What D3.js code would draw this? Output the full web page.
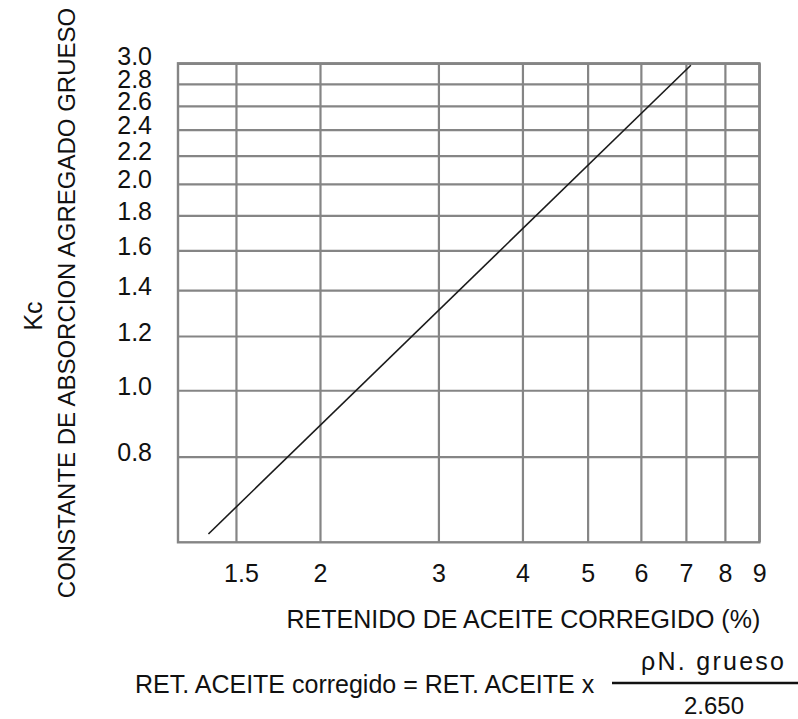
<!DOCTYPE html>
<html>
<head>
<meta charset="utf-8">
<script src="https://cdn.jsdelivr.net/npm/d3@7"></script>
<style>
  html, body { margin: 0; padding: 0; background: #fff; }
  svg { display: block; font-family: "Liberation Sans", Arial, sans-serif; }
</style>
</head>
<body>
<svg id="chart" width="798" height="719"></svg>
<script>
// ---- data ----
const xDomain = [1.23, 9];
const yDomain = [0.6, 3.0];
const xTickValues = [1.5, 2, 3, 4, 5, 6, 7, 8, 9];
const xTickLabels = ["1.5", "2", "3", "4", "5", "6", "7", "8", "9"];
const yTickValues = [0.8, 1.0, 1.2, 1.4, 1.6, 1.8, 2.0, 2.2, 2.4, 2.6, 2.8, 3.0];
const yTickLabels = ["0.8", "1.0", "1.2", "1.4", "1.6", "1.8", "2.0", "2.2", "2.4", "2.6", "2.8", "3.0"];
const curveX = [1.365, 7.12];
const curveY = [0.617, 2.98];

// ---- layout ----
const svg = d3.select("#chart");
const margin = { left: 178, top: 63.3, right: 798 - 759.3, bottom: 719 - 542.3 };
const W = 798 - margin.left - margin.right;
const H = 719 - margin.top - margin.bottom;
const gridColor = "#858585";
const textColor = "#111";
const fs = "25px";

const x = d3.scaleLog().domain(xDomain).range([0, W]);
const y = d3.scaleLog().domain(yDomain).range([H, 0]);

const g = svg.append("g").attr("transform", `translate(${margin.left},${margin.top})`);

// y grid + labels
const yAxis = d3.axisLeft(y)
  .tickValues(yTickValues)
  .tickFormat((d, i) => yTickLabels[i])
  .tickSize(-W)
  .tickPadding(26);
const gy = g.append("g").call(yAxis);
gy.select(".domain").remove();
gy.selectAll(".tick line").attr("stroke", gridColor).attr("stroke-width", 2.2);
gy.selectAll(".tick text")
  .attr("dy", null)
  .attr("y", d => d === yDomain[1] ? 1 : 4)
  .attr("fill", textColor)
  .style("font-size", fs);

// x grid + labels
const xAxis = d3.axisBottom(x)
  .tickValues(xTickValues)
  .tickFormat((d, i) => xTickLabels[i])
  .tickSize(-H);
const gx = g.append("g").attr("transform", `translate(0,${H})`).call(xAxis);
gx.select(".domain").remove();
gx.selectAll(".tick line").attr("stroke", gridColor).attr("stroke-width", 2.2);
gx.selectAll(".tick text")
  .attr("dy", null)
  .attr("y", 39.7)
  .attr("x", d => d === xTickValues[0] ? 5 : 0)
  .attr("fill", textColor)
  .style("font-size", fs);

// border
g.append("rect")
  .attr("x", 0).attr("y", 0)
  .attr("width", W).attr("height", H)
  .attr("fill", "none")
  .attr("stroke", gridColor)
  .attr("stroke-width", 2.4);

// curve
const pts = curveX.map((v, i) => [v, curveY[i]]);
g.append("path")
  .datum(pts)
  .attr("fill", "none")
  .attr("stroke", "#1a1a1a")
  .attr("stroke-width", 1.6)
  .attr("d", d3.line().x(d => x(d[0])).y(d => y(d[1])));

// axis titles
svg.append("text")
  .attr("x", 523.4).attr("y", 628)
  .attr("text-anchor", "middle")
  .attr("fill", textColor)
  .style("font-size", fs)
  .text("RETENIDO DE ACEITE CORREGIDO (%)");

svg.append("text")
  .attr("transform", "translate(75,303) rotate(-90)")
  .attr("text-anchor", "middle")
  .attr("fill", textColor)
  .style("font-size", "24px")
  .text("CONSTANTE DE ABSORCION AGREGADO GRUESO");

svg.append("text")
  .attr("transform", "translate(42,316) rotate(-90)")
  .attr("text-anchor", "middle")
  .attr("fill", textColor)
  .style("font-size", fs)
  .text("Kc");

// formula
svg.append("text")
  .attr("x", 135).attr("y", 693)
  .attr("fill", textColor)
  .style("font-size", fs)
  .text("RET. ACEITE corregido = RET. ACEITE x");

svg.append("text")
  .attr("x", 641).attr("y", 670)
  .attr("textLength", 143)
  .attr("lengthAdjust", "spacing")
  .attr("fill", textColor)
  .style("font-size", fs)
  .text("ρN. grueso");

svg.append("line")
  .attr("x1", 612).attr("x2", 798)
  .attr("y1", 683).attr("y2", 683)
  .attr("stroke", "#111")
  .attr("stroke-width", 2.5);

svg.append("text")
  .attr("x", 714).attr("y", 714)
  .attr("text-anchor", "middle")
  .attr("fill", textColor)
  .style("font-size", "24px")
  .text("2.650");
</script>
</body>
</html>
